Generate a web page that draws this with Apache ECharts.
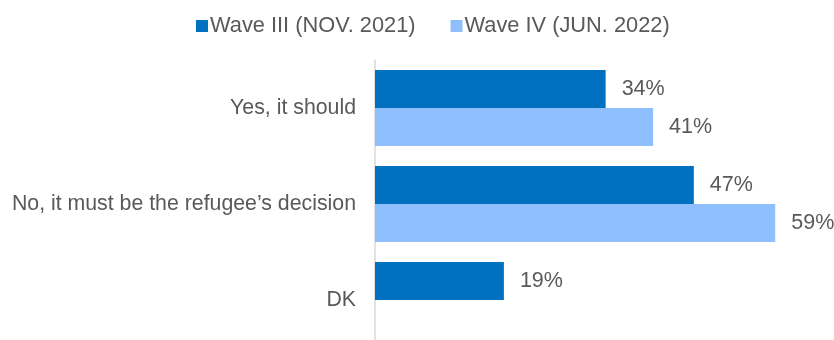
<!DOCTYPE html>
<html>
<head>
<meta charset="utf-8">
<script src="https://cdn.jsdelivr.net/npm/echarts@6/dist/echarts.min.js"></script>
<style>
  html, body { margin: 0; padding: 0; background: #ffffff; overflow: hidden; }
  #chart { width: 834px; height: 350px; }
</style>
</head>
<body>
<div id="chart"></div>
<script>
// Survey answers, shown top to bottom
const categories = ['Yes, it should', 'No, it must be the refugee\u2019s decision', 'DK'];
const seriesNames = ['Wave III (NOV. 2021)', 'Wave IV (JUN. 2022)'];
const waveIII = [34, 47, 19];
const waveIV = [41, 59, null];

const FONT = '"Liberation Sans", Arial, sans-serif';
const TEXT = '#595959';

const chart = echarts.init(document.getElementById('chart'), null, { renderer: 'canvas' });

function barSeries(name, data, color) {
  return {
    name: name,
    type: 'bar',
    data: data,
    barWidth: 38,
    barGap: '0%',
    itemStyle: { color: color },
    label: {
      show: true,
      position: 'right',
      distance: 16,
      formatter: p => p.value + '%',
      color: TEXT,
      fontSize: 21.5,
      fontFamily: FONT
    }
  };
}

chart.setOption({
  animation: false,
  legend: {
    top: 10,
    left: 191,
    itemWidth: 12,
    itemHeight: 12,
    itemGap: 35,
    icon: 'rect',
    textStyle: { color: TEXT, fontSize: 21.8, fontFamily: FONT, padding: [0, 0, 0, -3] },
    data: seriesNames
  },
  grid: { left: 375, top: 60, width: 407, height: 288, containLabel: false },
  xAxis: {
    type: 'value',
    min: 0,
    max: 60,
    show: false
  },
  yAxis: {
    type: 'category',
    data: categories,
    inverse: true,
    axisLine: { show: true, lineStyle: { color: '#d9d9d9', width: 1.5 } },
    axisTick: { show: false },
    axisLabel: { color: TEXT, fontSize: 21.3, fontFamily: FONT, margin: 19 }
  },
  series: [
    barSeries(seriesNames[0], waveIII, '#0070C0'),
    barSeries(seriesNames[1], waveIV, '#8FBFFF')
  ]
});
</script>
</body>
</html>
